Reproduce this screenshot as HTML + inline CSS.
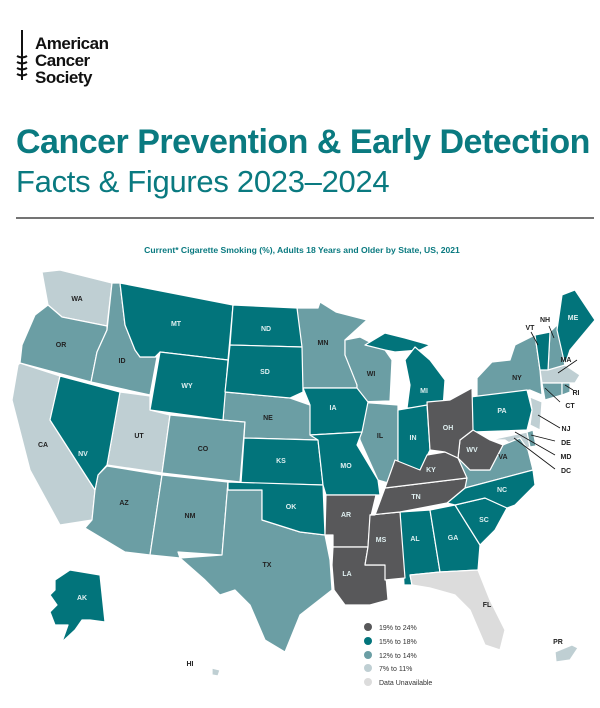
<!DOCTYPE html>
<html><head><meta charset="utf-8"><style>
body{margin:0;background:#fff;width:600px;height:703px;overflow:hidden;font-family:"Liberation Sans",sans-serif}
</style></head><body>
<svg width="600" height="703" viewBox="0 0 600 703" xmlns="http://www.w3.org/2000/svg" font-family="Liberation Sans, sans-serif">
<g stroke="#111" fill="none" stroke-width="2">
<line x1="22" y1="30" x2="22" y2="80"/>
<path d="M17 56 q5 3 10 0 M17 62 q5 3 10 0 M17 68 q5 3 10 0 M17 74 q5 3 10 0"/>
</g>
<text x="35" y="49" font-size="17" font-weight="bold" fill="#111" letter-spacing="-0.5">American</text>
<text x="35" y="66" font-size="17" font-weight="bold" fill="#111" letter-spacing="-0.5">Cancer</text>
<text x="35" y="83" font-size="17" font-weight="bold" fill="#111" letter-spacing="-0.5">Society</text>
<text x="16" y="153" font-size="34" font-weight="bold" fill="#0a7a80" letter-spacing="-0.5">Cancer Prevention &amp; Early Detection</text>
<text x="16" y="192" font-size="31" fill="#0a7a80" letter-spacing="-0.3">Facts &amp; Figures 2023–2024</text>
<line x1="16" y1="218" x2="594" y2="218" stroke="#222" stroke-width="1.2"/>
<text x="302" y="253" font-size="8.6" font-weight="bold" fill="#0a7a80" text-anchor="middle">Current* Cigarette Smoking (%), Adults 18 Years and Older by State, US, 2021</text>
<g stroke="#fff" stroke-width="1.2" stroke-linejoin="round">
<g fill="#bfcfd3">
<polygon points="42,272 60,270 112,283 107,326 62,317 48,305"/>
<polygon points="20,363 60,376 50,420 95,490 92,520 60,525 30,470 12,400 18,365"/>
<polygon points="120,392 150,396 150,410 170,415 162,473 107,465"/>
<polygon points="540,370 565,365 580,375 575,383 542,383"/>
<polygon points="530,397 542,402 540,430 530,425 532,410"/>
<polygon points="490,440 527,432 530,447 520,450 505,440"/>
<polygon points="555,652 572,645 578,648 570,660 556,662"/>
<polygon points="212,668 220,670 218,676 212,675"/>
</g>
<g fill="#6b9ea4">
<polygon points="48,305 62,317 107,326 107,330 97,352 91,382 20,363 22,345 35,315"/>
<polygon points="112,283 120,283 125,325 135,350 140,357 157,357 150,395 91,382 97,352 107,330"/>
<polygon points="170,415 245,422 240,482 162,473"/>
<polygon points="107,466 162,475 150,555 125,552 85,528 92,520 95,490 98,475"/>
<polygon points="162,475 228,482 222,555 178,552 180,558 150,555"/>
<polygon points="225,392 290,398 310,405 318,440 244,438 245,422 223,420"/>
<polygon points="228,490 262,490 262,520 300,532 325,535 330,560 332,590 300,615 285,652 265,640 250,605 235,590 220,595 205,580 180,558 222,555 228,482"/>
<polygon points="297,308 318,308 320,302 336,312 367,320 345,340 345,355 357,380 357,388 303,388 300,350"/>
<polygon points="345,340 360,337 385,350 392,360 390,401 357,402 357,385 345,355"/>
<polygon points="357,402 398,405 398,470 388,483 378,480 360,440 357,420"/>
<polygon points="458,458 470,470 490,470 503,445 520,438 528,450 533,470 465,488 447,482"/>
<polygon points="477,378 492,362 510,360 515,345 535,335 540,370 542,395 530,390 477,398"/>
<polygon points="550,332 557,325 565,365 548,370"/>
<polygon points="542,383 562,383 562,395 545,400"/>
<polygon points="562,383 570,383 570,392 562,395"/>
<polygon points="527,432 533,430 536,446 530,447"/>
</g>
<g fill="#02747b">
<polygon points="60,376 120,392 107,465 98,475 95,490 50,420"/>
<polygon points="120,283 233,305 228,360 160,352 155,357 140,357 135,350 125,325"/>
<polygon points="160,352 228,360 223,420 150,410"/>
<polygon points="233,305 297,308 302,347 230,345"/>
<polygon points="230,345 302,347 303,392 290,398 225,392"/>
<polygon points="244,438 318,440 323,485 241,483"/>
<polygon points="228,482 323,485 325,535 300,532 262,520 262,490 228,490"/>
<polygon points="303,388 357,388 368,402 362,432 310,435 310,405"/>
<polygon points="310,435 362,432 357,445 378,480 380,495 326,495 323,485 318,440"/>
<polygon points="365,345 385,333 405,338 430,345 420,350 395,352 385,350"/>
<polygon points="405,360 415,347 430,360 445,380 443,408 407,408 410,385"/>
<polygon points="398,410 427,405 430,450 420,470 398,470"/>
<polygon points="400,512 430,510 440,572 410,575 412,585 404,585"/>
<polygon points="430,510 455,505 480,545 478,570 440,572"/>
<polygon points="455,505 485,498 507,508 495,530 480,545"/>
<polygon points="447,503 465,488 533,470 535,485 515,505 507,508 485,498 455,505"/>
<polygon points="470,397 527,390 532,410 527,430 473,432"/>
<polygon points="535,335 550,332 548,370 540,370"/>
<polygon points="557,330 562,295 575,290 595,320 570,350 565,365"/>
<polygon points="55,580 70,570 100,575 105,622 90,620 82,620 75,630 62,642 68,625 55,625 50,612 57,605 50,595 55,590"/>
</g>
<g fill="#58585a">
<polygon points="326,495 376,495 370,520 368,547 333,547 333,535 325,535"/>
<polygon points="333,547 368,547 365,565 385,565 388,600 370,605 345,605 334,590 332,565"/>
<polygon points="370,515 400,512 405,578 385,580 385,565 365,565 368,547"/>
<polygon points="375,515 385,488 467,478 465,488 447,503 400,512 370,515"/>
<polygon points="385,488 395,460 420,470 427,455 445,452 458,458 467,478"/>
<polygon points="473,430 490,440 503,445 490,470 470,470 458,458 460,440"/>
<polygon points="427,402 450,400 472,388 473,430 460,440 458,458 445,452 430,450"/>
</g>
<polygon fill="#dcdcdc" points="410,575 440,572 478,570 490,600 505,630 500,650 485,645 470,610 455,595 430,588 412,585"/>
</g>
<g stroke="#111" stroke-width="0.8">
<line x1="531" y1="332" x2="538" y2="345"/><line x1="549" y1="326" x2="554" y2="338"/>
<line x1="577" y1="360" x2="558" y2="373"/><line x1="565" y1="385" x2="573" y2="390"/>
<line x1="545" y1="388" x2="560" y2="402"/><line x1="538" y1="415" x2="560" y2="428"/>
<line x1="531" y1="435" x2="555" y2="441"/><line x1="515" y1="432" x2="555" y2="455"/>
<line x1="514" y1="438" x2="555" y2="469"/>
</g>
<g font-size="7" font-weight="bold" text-anchor="middle" fill="#222">
<text x="77" y="301">WA</text><text x="61" y="347">OR</text><text x="122" y="363">ID</text>
<text x="43" y="447">CA</text><text x="139" y="438">UT</text><text x="203" y="451">CO</text>
<text x="124" y="505">AZ</text><text x="190" y="518">NM</text><text x="268" y="420">NE</text>
<text x="267" y="567">TX</text><text x="323" y="345">MN</text><text x="371" y="376">WI</text>
<text x="380" y="438">IL</text><text x="517" y="380">NY</text><text x="503" y="459">VA</text>
<text x="566" y="362">MA</text><text x="576" y="395">RI</text><text x="570" y="408">CT</text>
<text x="566" y="431">NJ</text><text x="566" y="445">DE</text><text x="566" y="459">MD</text>
<text x="566" y="473">DC</text><text x="530" y="330">VT</text><text x="545" y="322">NH</text>
<text x="487" y="607">FL</text><text x="558" y="644">PR</text><text x="190" y="666">HI</text>
</g>
<g font-size="7" font-weight="bold" text-anchor="middle" fill="#dfeff0">
<text x="83" y="456">NV</text><text x="176" y="326">MT</text><text x="187" y="388">WY</text>
<text x="266" y="331">ND</text><text x="265" y="374">SD</text><text x="281" y="463">KS</text>
<text x="291" y="509">OK</text><text x="333" y="410">IA</text><text x="346" y="468">MO</text>
<text x="424" y="393">MI</text><text x="413" y="440">IN</text><text x="415" y="541">AL</text>
<text x="453" y="540">GA</text><text x="484" y="522">SC</text><text x="502" y="492">NC</text>
<text x="502" y="413">PA</text><text x="573" y="320">ME</text><text x="82" y="600">AK</text>
<text x="346" y="517">AR</text><text x="347" y="576">LA</text><text x="381" y="542">MS</text>
<text x="416" y="499">TN</text><text x="431" y="472">KY</text><text x="472" y="452">WV</text>
<text x="448" y="430">OH</text>
</g>
<g font-size="7" fill="#333">
<circle cx="368" cy="627" r="4" fill="#58585a"/><text x="379" y="630">19% to 24%</text>
<circle cx="368" cy="641" r="4" fill="#02747b"/><text x="379" y="644">15% to 18%</text>
<circle cx="368" cy="655" r="4" fill="#6b9ea4"/><text x="379" y="658">12% to 14%</text>
<circle cx="368" cy="668" r="4" fill="#bfcfd3"/><text x="379" y="671">7% to 11%</text>
<circle cx="368" cy="682" r="4" fill="#dcdcdc"/><text x="379" y="685">Data Unavailable</text>
</g>
</svg>
</body></html>
